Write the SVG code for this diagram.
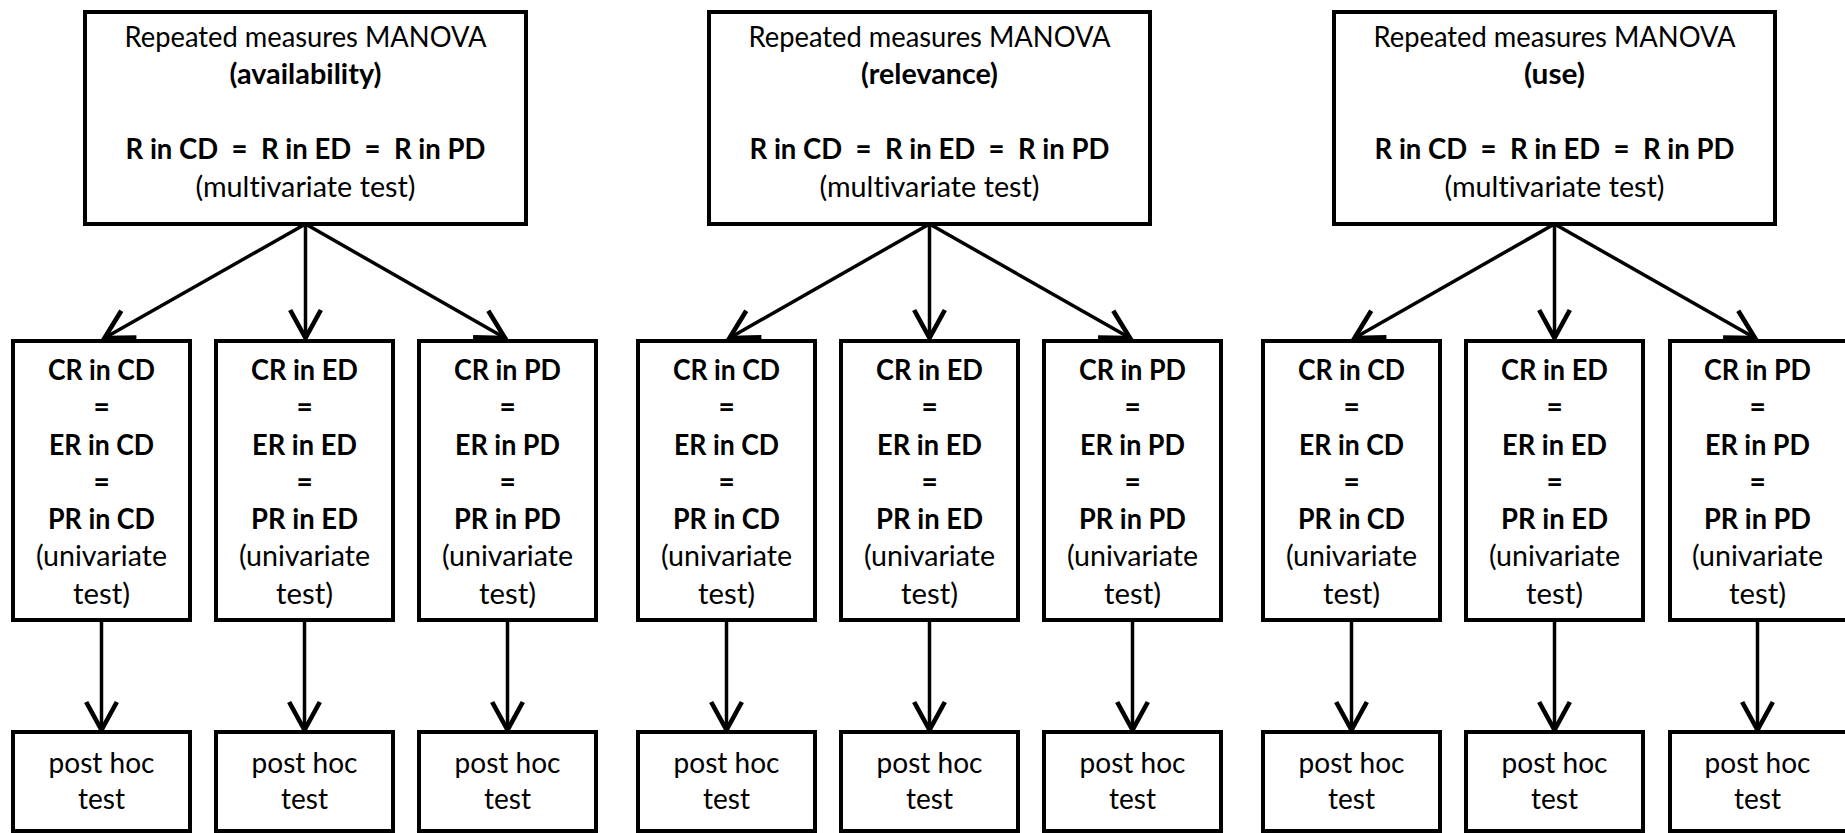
<svg xmlns="http://www.w3.org/2000/svg" width="1845" height="833" viewBox="0 0 1845 833">
<defs>
<style>
.box{fill:#fff;stroke:#000;stroke-width:4}
.t{font-family:Lato,"Open Sans","Liberation Sans",sans-serif;font-size:28px;text-anchor:middle;fill:#000;font-variant-ligatures:none}
.b{font-weight:bold}
.c{stroke:#000;stroke-width:3.5;fill:none}
</style>
<marker id="ah" markerUnits="userSpaceOnUse" markerWidth="40" markerHeight="40" viewBox="-25 -15 30 30" refX="0" refY="0" orient="auto" overflow="visible">
<path d="M-21,-11.5 L0,0 L-21,11.5" fill="none" stroke="#000" stroke-width="3.5" stroke-linejoin="miter"/>
</marker>
</defs>
<rect width="1845" height="833" fill="#fff"/>
<g id="connectors">
<line class="c" x1="305.5" y1="224" x2="104.5" y2="338" marker-end="url(#ah)"/>
<line class="c" x1="305.5" y1="224" x2="305.5" y2="338" marker-end="url(#ah)"/>
<line class="c" x1="305.5" y1="224" x2="505" y2="338" marker-end="url(#ah)"/>
<line class="c" x1="929.5" y1="224" x2="729.5" y2="338" marker-end="url(#ah)"/>
<line class="c" x1="929.5" y1="224" x2="929.5" y2="338" marker-end="url(#ah)"/>
<line class="c" x1="929.5" y1="224" x2="1130" y2="338" marker-end="url(#ah)"/>
<line class="c" x1="1554.5" y1="224" x2="1354.5" y2="338" marker-end="url(#ah)"/>
<line class="c" x1="1554.5" y1="224" x2="1554.5" y2="338" marker-end="url(#ah)"/>
<line class="c" x1="1554.5" y1="224" x2="1755" y2="338" marker-end="url(#ah)"/>
<line class="c" x1="101.5" y1="620" x2="101.5" y2="730" marker-end="url(#ah)"/>
<line class="c" x1="304.5" y1="620" x2="304.5" y2="730" marker-end="url(#ah)"/>
<line class="c" x1="507.5" y1="620" x2="507.5" y2="730" marker-end="url(#ah)"/>
<line class="c" x1="726.5" y1="620" x2="726.5" y2="730" marker-end="url(#ah)"/>
<line class="c" x1="929.5" y1="620" x2="929.5" y2="730" marker-end="url(#ah)"/>
<line class="c" x1="1132.5" y1="620" x2="1132.5" y2="730" marker-end="url(#ah)"/>
<line class="c" x1="1351.5" y1="620" x2="1351.5" y2="730" marker-end="url(#ah)"/>
<line class="c" x1="1554.5" y1="620" x2="1554.5" y2="730" marker-end="url(#ah)"/>
<line class="c" x1="1757.5" y1="620" x2="1757.5" y2="730" marker-end="url(#ah)"/>
</g>

<g id="top-availability">
<rect class="box" x="85" y="12" width="441" height="212"/>
<text class="t" x="305.5" y="46.5" textLength="362" lengthAdjust="spacingAndGlyphs">Repeated measures MANOVA</text>
<text class="t b" x="305.5" y="84" textLength="152" lengthAdjust="spacingAndGlyphs">(availability)</text>
<text class="t b" x="305.5" y="159" textLength="360" lengthAdjust="spacingAndGlyphs" xml:space="preserve">R in CD  =  R in ED  =  R in PD</text>
<text class="t" x="305.5" y="196.5" textLength="220" lengthAdjust="spacingAndGlyphs">(multivariate test)</text>
</g>
<g id="top-relevance">
<rect class="box" x="709" y="12" width="441" height="212"/>
<text class="t" x="929.5" y="46.5" textLength="362" lengthAdjust="spacingAndGlyphs">Repeated measures MANOVA</text>
<text class="t b" x="929.5" y="84" textLength="137" lengthAdjust="spacingAndGlyphs">(relevance)</text>
<text class="t b" x="929.5" y="159" textLength="360" lengthAdjust="spacingAndGlyphs" xml:space="preserve">R in CD  =  R in ED  =  R in PD</text>
<text class="t" x="929.5" y="196.5" textLength="220" lengthAdjust="spacingAndGlyphs">(multivariate test)</text>
</g>
<g id="top-use">
<rect class="box" x="1334" y="12" width="441" height="212"/>
<text class="t" x="1554.5" y="46.5" textLength="362" lengthAdjust="spacingAndGlyphs">Repeated measures MANOVA</text>
<text class="t b" x="1554.5" y="84" textLength="61" lengthAdjust="spacingAndGlyphs">(use)</text>
<text class="t b" x="1554.5" y="159" textLength="360" lengthAdjust="spacingAndGlyphs" xml:space="preserve">R in CD  =  R in ED  =  R in PD</text>
<text class="t" x="1554.5" y="196.5" textLength="220" lengthAdjust="spacingAndGlyphs">(multivariate test)</text>
</g>

<g id="a-cd">
<rect class="box" x="13" y="341" width="177" height="279"/>
<text class="t b" x="101.5" y="379.5" textLength="107" lengthAdjust="spacingAndGlyphs">CR in CD</text><text class="t b" x="101.5" y="417">=</text><text class="t b" x="101.5" y="454.5" textLength="105" lengthAdjust="spacingAndGlyphs">ER in CD</text><text class="t b" x="101.5" y="491.5">=</text><text class="t b" x="101.5" y="528.5" textLength="107" lengthAdjust="spacingAndGlyphs">PR in CD</text><text class="t" x="101.5" y="566" textLength="131" lengthAdjust="spacingAndGlyphs">(univariate</text><text class="t" x="101.5" y="603.5" textLength="57" lengthAdjust="spacingAndGlyphs">test)</text>
</g>
<g id="a-ed">
<rect class="box" x="216" y="341" width="177" height="279"/>
<text class="t b" x="304.5" y="379.5" textLength="107" lengthAdjust="spacingAndGlyphs">CR in ED</text><text class="t b" x="304.5" y="417">=</text><text class="t b" x="304.5" y="454.5" textLength="105" lengthAdjust="spacingAndGlyphs">ER in ED</text><text class="t b" x="304.5" y="491.5">=</text><text class="t b" x="304.5" y="528.5" textLength="107" lengthAdjust="spacingAndGlyphs">PR in ED</text><text class="t" x="304.5" y="566" textLength="131" lengthAdjust="spacingAndGlyphs">(univariate</text><text class="t" x="304.5" y="603.5" textLength="57" lengthAdjust="spacingAndGlyphs">test)</text>
</g>
<g id="a-pd">
<rect class="box" x="419" y="341" width="177" height="279"/>
<text class="t b" x="507.5" y="379.5" textLength="107" lengthAdjust="spacingAndGlyphs">CR in PD</text><text class="t b" x="507.5" y="417">=</text><text class="t b" x="507.5" y="454.5" textLength="105" lengthAdjust="spacingAndGlyphs">ER in PD</text><text class="t b" x="507.5" y="491.5">=</text><text class="t b" x="507.5" y="528.5" textLength="107" lengthAdjust="spacingAndGlyphs">PR in PD</text><text class="t" x="507.5" y="566" textLength="131" lengthAdjust="spacingAndGlyphs">(univariate</text><text class="t" x="507.5" y="603.5" textLength="57" lengthAdjust="spacingAndGlyphs">test)</text>
</g>
<g id="r-cd">
<rect class="box" x="638" y="341" width="177" height="279"/>
<text class="t b" x="726.5" y="379.5" textLength="107" lengthAdjust="spacingAndGlyphs">CR in CD</text><text class="t b" x="726.5" y="417">=</text><text class="t b" x="726.5" y="454.5" textLength="105" lengthAdjust="spacingAndGlyphs">ER in CD</text><text class="t b" x="726.5" y="491.5">=</text><text class="t b" x="726.5" y="528.5" textLength="107" lengthAdjust="spacingAndGlyphs">PR in CD</text><text class="t" x="726.5" y="566" textLength="131" lengthAdjust="spacingAndGlyphs">(univariate</text><text class="t" x="726.5" y="603.5" textLength="57" lengthAdjust="spacingAndGlyphs">test)</text>
</g>
<g id="r-ed">
<rect class="box" x="841" y="341" width="177" height="279"/>
<text class="t b" x="929.5" y="379.5" textLength="107" lengthAdjust="spacingAndGlyphs">CR in ED</text><text class="t b" x="929.5" y="417">=</text><text class="t b" x="929.5" y="454.5" textLength="105" lengthAdjust="spacingAndGlyphs">ER in ED</text><text class="t b" x="929.5" y="491.5">=</text><text class="t b" x="929.5" y="528.5" textLength="107" lengthAdjust="spacingAndGlyphs">PR in ED</text><text class="t" x="929.5" y="566" textLength="131" lengthAdjust="spacingAndGlyphs">(univariate</text><text class="t" x="929.5" y="603.5" textLength="57" lengthAdjust="spacingAndGlyphs">test)</text>
</g>
<g id="r-pd">
<rect class="box" x="1044" y="341" width="177" height="279"/>
<text class="t b" x="1132.5" y="379.5" textLength="107" lengthAdjust="spacingAndGlyphs">CR in PD</text><text class="t b" x="1132.5" y="417">=</text><text class="t b" x="1132.5" y="454.5" textLength="105" lengthAdjust="spacingAndGlyphs">ER in PD</text><text class="t b" x="1132.5" y="491.5">=</text><text class="t b" x="1132.5" y="528.5" textLength="107" lengthAdjust="spacingAndGlyphs">PR in PD</text><text class="t" x="1132.5" y="566" textLength="131" lengthAdjust="spacingAndGlyphs">(univariate</text><text class="t" x="1132.5" y="603.5" textLength="57" lengthAdjust="spacingAndGlyphs">test)</text>
</g>
<g id="u-cd">
<rect class="box" x="1263" y="341" width="177" height="279"/>
<text class="t b" x="1351.5" y="379.5" textLength="107" lengthAdjust="spacingAndGlyphs">CR in CD</text><text class="t b" x="1351.5" y="417">=</text><text class="t b" x="1351.5" y="454.5" textLength="105" lengthAdjust="spacingAndGlyphs">ER in CD</text><text class="t b" x="1351.5" y="491.5">=</text><text class="t b" x="1351.5" y="528.5" textLength="107" lengthAdjust="spacingAndGlyphs">PR in CD</text><text class="t" x="1351.5" y="566" textLength="131" lengthAdjust="spacingAndGlyphs">(univariate</text><text class="t" x="1351.5" y="603.5" textLength="57" lengthAdjust="spacingAndGlyphs">test)</text>
</g>
<g id="u-ed">
<rect class="box" x="1466" y="341" width="177" height="279"/>
<text class="t b" x="1554.5" y="379.5" textLength="107" lengthAdjust="spacingAndGlyphs">CR in ED</text><text class="t b" x="1554.5" y="417">=</text><text class="t b" x="1554.5" y="454.5" textLength="105" lengthAdjust="spacingAndGlyphs">ER in ED</text><text class="t b" x="1554.5" y="491.5">=</text><text class="t b" x="1554.5" y="528.5" textLength="107" lengthAdjust="spacingAndGlyphs">PR in ED</text><text class="t" x="1554.5" y="566" textLength="131" lengthAdjust="spacingAndGlyphs">(univariate</text><text class="t" x="1554.5" y="603.5" textLength="57" lengthAdjust="spacingAndGlyphs">test)</text>
</g>
<g id="u-pd">
<rect class="box" x="1670" y="341" width="185" height="279"/>
<text class="t b" x="1757.5" y="379.5" textLength="107" lengthAdjust="spacingAndGlyphs">CR in PD</text><text class="t b" x="1757.5" y="417">=</text><text class="t b" x="1757.5" y="454.5" textLength="105" lengthAdjust="spacingAndGlyphs">ER in PD</text><text class="t b" x="1757.5" y="491.5">=</text><text class="t b" x="1757.5" y="528.5" textLength="107" lengthAdjust="spacingAndGlyphs">PR in PD</text><text class="t" x="1757.5" y="566" textLength="131" lengthAdjust="spacingAndGlyphs">(univariate</text><text class="t" x="1757.5" y="603.5" textLength="57" lengthAdjust="spacingAndGlyphs">test)</text>
</g>

<g id="ph-a-cd"><rect class="box" x="13" y="732" width="177" height="99"/><text class="t" x="101.5" y="772.5" textLength="106" lengthAdjust="spacingAndGlyphs">post hoc</text><text class="t" x="101.5" y="809" textLength="47" lengthAdjust="spacingAndGlyphs">test</text></g>
<g id="ph-a-ed"><rect class="box" x="216" y="732" width="177" height="99"/><text class="t" x="304.5" y="772.5" textLength="106" lengthAdjust="spacingAndGlyphs">post hoc</text><text class="t" x="304.5" y="809" textLength="47" lengthAdjust="spacingAndGlyphs">test</text></g>
<g id="ph-a-pd"><rect class="box" x="419" y="732" width="177" height="99"/><text class="t" x="507.5" y="772.5" textLength="106" lengthAdjust="spacingAndGlyphs">post hoc</text><text class="t" x="507.5" y="809" textLength="47" lengthAdjust="spacingAndGlyphs">test</text></g>
<g id="ph-r-cd"><rect class="box" x="638" y="732" width="177" height="99"/><text class="t" x="726.5" y="772.5" textLength="106" lengthAdjust="spacingAndGlyphs">post hoc</text><text class="t" x="726.5" y="809" textLength="47" lengthAdjust="spacingAndGlyphs">test</text></g>
<g id="ph-r-ed"><rect class="box" x="841" y="732" width="177" height="99"/><text class="t" x="929.5" y="772.5" textLength="106" lengthAdjust="spacingAndGlyphs">post hoc</text><text class="t" x="929.5" y="809" textLength="47" lengthAdjust="spacingAndGlyphs">test</text></g>
<g id="ph-r-pd"><rect class="box" x="1044" y="732" width="177" height="99"/><text class="t" x="1132.5" y="772.5" textLength="106" lengthAdjust="spacingAndGlyphs">post hoc</text><text class="t" x="1132.5" y="809" textLength="47" lengthAdjust="spacingAndGlyphs">test</text></g>
<g id="ph-u-cd"><rect class="box" x="1263" y="732" width="177" height="99"/><text class="t" x="1351.5" y="772.5" textLength="106" lengthAdjust="spacingAndGlyphs">post hoc</text><text class="t" x="1351.5" y="809" textLength="47" lengthAdjust="spacingAndGlyphs">test</text></g>
<g id="ph-u-ed"><rect class="box" x="1466" y="732" width="177" height="99"/><text class="t" x="1554.5" y="772.5" textLength="106" lengthAdjust="spacingAndGlyphs">post hoc</text><text class="t" x="1554.5" y="809" textLength="47" lengthAdjust="spacingAndGlyphs">test</text></g>
<g id="ph-u-pd"><rect class="box" x="1670" y="732" width="185" height="99"/><text class="t" x="1757.5" y="772.5" textLength="106" lengthAdjust="spacingAndGlyphs">post hoc</text><text class="t" x="1757.5" y="809" textLength="47" lengthAdjust="spacingAndGlyphs">test</text></g>
</svg>
